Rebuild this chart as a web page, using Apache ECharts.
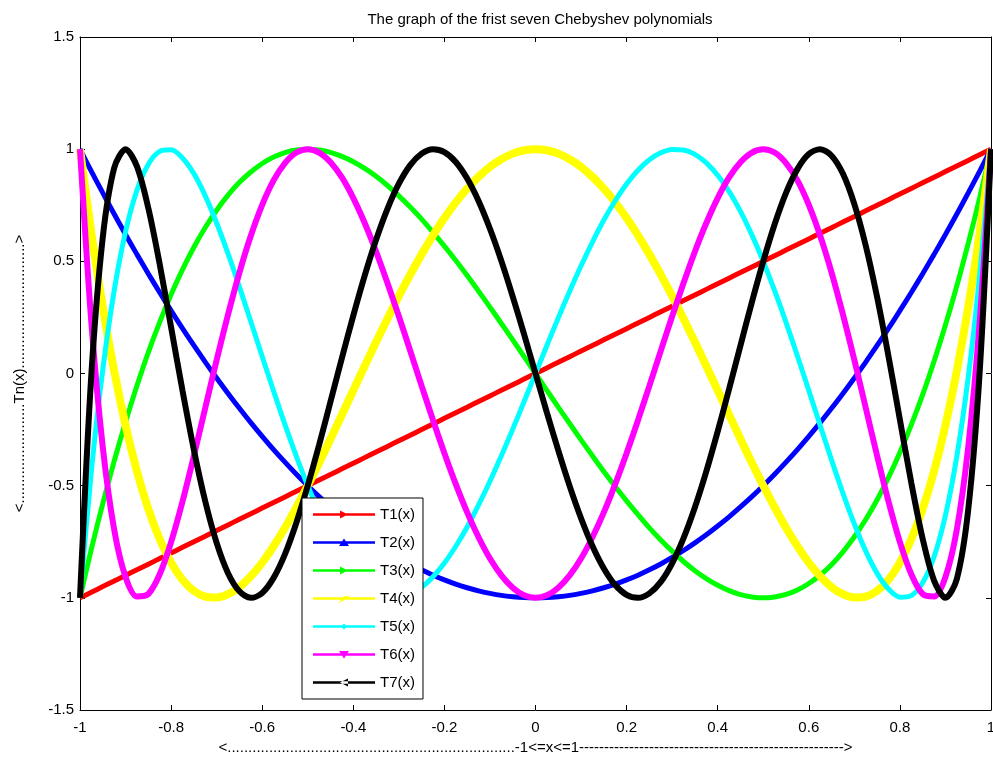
<!DOCTYPE html>
<html>
<head>
<meta charset="utf-8">
<title>Chebyshev polynomials</title>
<script src="https://cdn.jsdelivr.net/npm/echarts@6/dist/echarts.min.js"></script>
<style>
  html, body { margin: 0; padding: 0; background: #fff; }
  #chart { width: 993px; height: 760px; }
</style>
</head>
<body>
<div id="chart"></div>
<script>
// x samples, step 0.025
let xs = [-1, -0.975, -0.95, -0.925, -0.9, -0.875, -0.85, -0.825, -0.8, -0.775, -0.75, -0.725, -0.7, -0.675, -0.65, -0.625, -0.6, -0.575, -0.55, -0.525,
  -0.5, -0.475, -0.45, -0.425, -0.4, -0.375, -0.35, -0.325, -0.3, -0.275, -0.25, -0.225, -0.2, -0.175, -0.15, -0.125, -0.1, -0.075, -0.05, -0.025,
  0, 0.025, 0.05, 0.075, 0.1, 0.125, 0.15, 0.175, 0.2, 0.225, 0.25, 0.275, 0.3, 0.325, 0.35, 0.375, 0.4, 0.425, 0.45, 0.475,
  0.5, 0.525, 0.55, 0.575, 0.6, 0.625, 0.65, 0.675, 0.7, 0.725, 0.75, 0.775, 0.8, 0.825, 0.85, 0.875, 0.9, 0.925, 0.95, 0.975, 1];

let t1 = [-1, -0.975, -0.95, -0.925, -0.9, -0.875, -0.85, -0.825, -0.8, -0.775, -0.75, -0.725, -0.7, -0.675, -0.65, -0.625, -0.6, -0.575, -0.55, -0.525,
  -0.5, -0.475, -0.45, -0.425, -0.4, -0.375, -0.35, -0.325, -0.3, -0.275, -0.25, -0.225, -0.2, -0.175, -0.15, -0.125, -0.1, -0.075, -0.05, -0.025,
  0, 0.025, 0.05, 0.075, 0.1, 0.125, 0.15, 0.175, 0.2, 0.225, 0.25, 0.275, 0.3, 0.325, 0.35, 0.375, 0.4, 0.425, 0.45, 0.475,
  0.5, 0.525, 0.55, 0.575, 0.6, 0.625, 0.65, 0.675, 0.7, 0.725, 0.75, 0.775, 0.8, 0.825, 0.85, 0.875, 0.9, 0.925, 0.95, 0.975, 1];
let t2 = [1, 0.901, 0.805, 0.711, 0.62, 0.531, 0.445, 0.361, 0.28, 0.201, 0.125, 0.051, -0.02, -0.089, -0.155, -0.219, -0.28, -0.339, -0.395, -0.449,
  -0.5, -0.549, -0.595, -0.639, -0.68, -0.719, -0.755, -0.789, -0.82, -0.849, -0.875, -0.899, -0.92, -0.939, -0.955, -0.969, -0.98, -0.989, -0.995, -0.999,
  -1, -0.999, -0.995, -0.989, -0.98, -0.969, -0.955, -0.939, -0.92, -0.899, -0.875, -0.849, -0.82, -0.789, -0.755, -0.719, -0.68, -0.639, -0.595, -0.549,
  -0.5, -0.449, -0.395, -0.339, -0.28, -0.219, -0.155, -0.089, -0.02, 0.051, 0.125, 0.201, 0.28, 0.361, 0.445, 0.531, 0.62, 0.711, 0.805, 0.901, 1];
let t3 = [-1, -0.782, -0.58, -0.391, -0.216, -0.055, 0.094, 0.229, 0.352, 0.463, 0.563, 0.651, 0.728, 0.795, 0.852, 0.898, 0.936, 0.965, 0.985, 0.996,
  1, 0.996, 0.986, 0.968, 0.944, 0.914, 0.879, 0.838, 0.792, 0.742, 0.688, 0.629, 0.568, 0.504, 0.437, 0.367, 0.296, 0.223, 0.15, 0.075,
  0, -0.075, -0.15, -0.223, -0.296, -0.367, -0.437, -0.504, -0.568, -0.629, -0.688, -0.742, -0.792, -0.838, -0.879, -0.914, -0.944, -0.968, -0.986, -0.996,
  -1, -0.996, -0.985, -0.965, -0.936, -0.898, -0.852, -0.795, -0.728, -0.651, -0.563, -0.463, -0.352, -0.229, -0.094, 0.055, 0.216, 0.391, 0.58, 0.782, 1];
let t4 = [1, 0.625, 0.296, 0.012, -0.231, -0.436, -0.604, -0.739, -0.843, -0.919, -0.969, -0.995, -0.999, -0.984, -0.952, -0.904, -0.843, -0.77, -0.688, -0.597,
  -0.5, -0.398, -0.292, -0.184, -0.075, 0.033, 0.14, 0.244, 0.345, 0.441, 0.531, 0.616, 0.693, 0.763, 0.824, 0.877, 0.921, 0.955, 0.98, 0.995,
  1, 0.995, 0.98, 0.955, 0.921, 0.877, 0.824, 0.763, 0.693, 0.616, 0.531, 0.441, 0.345, 0.244, 0.14, 0.033, -0.075, -0.184, -0.292, -0.398,
  -0.5, -0.597, -0.688, -0.77, -0.843, -0.904, -0.952, -0.984, -0.999, -0.995, -0.969, -0.919, -0.843, -0.739, -0.604, -0.436, -0.231, 0.012, 0.296, 0.625, 1];
let t5 = [-1, -0.435, 0.017, 0.369, 0.632, 0.817, 0.933, 0.99, 0.997, 0.961, 0.891, 0.792, 0.671, 0.534, 0.386, 0.232, 0.076, -0.078, -0.228, -0.369,
  -0.5, -0.618, -0.723, -0.812, -0.884, -0.939, -0.977, -0.996, -0.999, -0.984, -0.953, -0.906, -0.845, -0.77, -0.684, -0.586, -0.48, -0.367, -0.248, -0.125,
  0, 0.125, 0.248, 0.367, 0.48, 0.586, 0.684, 0.77, 0.845, 0.906, 0.953, 0.984, 0.999, 0.996, 0.977, 0.939, 0.884, 0.812, 0.723, 0.618,
  0.5, 0.369, 0.228, 0.078, -0.076, -0.232, -0.386, -0.534, -0.671, -0.792, -0.891, -0.961, -0.997, -0.99, -0.933, -0.817, -0.632, -0.369, -0.017, 0.435, 1];
let t6 = [1, 0.225, -0.328, -0.695, -0.907, -0.994, -0.983, -0.895, -0.752, -0.571, -0.367, -0.153, 0.06, 0.263, 0.45, 0.614, 0.752, 0.861, 0.938, 0.985,
  1, 0.985, 0.942, 0.874, 0.782, 0.671, 0.544, 0.403, 0.255, 0.101, -0.055, -0.208, -0.355, -0.493, -0.619, -0.73, -0.825, -0.9, -0.955, -0.989,
  -1, -0.989, -0.955, -0.9, -0.825, -0.73, -0.619, -0.493, -0.355, -0.208, -0.055, 0.101, 0.255, 0.403, 0.544, 0.671, 0.782, 0.874, 0.942, 0.985,
  1, 0.985, 0.938, 0.861, 0.752, 0.614, 0.45, 0.263, 0.06, -0.153, -0.367, -0.571, -0.752, -0.895, -0.983, -0.994, -0.907, -0.695, -0.328, 0.225, 1];
let t7 = [-1, -0.002, 0.607, 0.916, 1, 0.923, 0.737, 0.487, 0.206, -0.076, -0.34, -0.57, -0.755, -0.89, -0.971, -1, -0.978, -0.911, -0.805, -0.665,
  -0.5, -0.318, -0.125, 0.069, 0.258, 0.436, 0.596, 0.734, 0.846, 0.929, 0.98, 1, 0.987, 0.943, 0.869, 0.769, 0.645, 0.502, 0.343, 0.174,
  0, -0.174, -0.343, -0.502, -0.645, -0.769, -0.869, -0.943, -0.987, -1, -0.98, -0.929, -0.846, -0.734, -0.596, -0.436, -0.258, -0.069, 0.125, 0.318,
  0.5, 0.665, 0.805, 0.911, 0.978, 1, 0.971, 0.89, 0.755, 0.57, 0.34, 0.076, -0.206, -0.487, -0.737, -0.923, -1, -0.916, -0.607, 0.002, 1];

let names = ['T1(x)', 'T2(x)', 'T3(x)', 'T4(x)', 'T5(x)', 'T6(x)', 'T7(x)'];
let colors = ['#ff0000', '#0000ff', '#00ff00', '#ffff00', '#00ffff', '#ff00ff', '#000000'];
let values = [t1, t2, t3, t4, t5, t6, t7];
let widths = [5, 5, 5, 8, 5, 6, 6];

// legend icons: a line with the marker in the middle
let base = 'M0,0L0,0M62,14L62,14M0,5.8h62v2.4H0z';
let icons = [
  base + 'M27,3L35,7L27,11z',
  base + 'M26,10.5L31,3L36,10.5z',
  base + 'M27,3L35,7L27,11z',
  base + 'M25,12L31,5L37,4L32,8z',
  base + 'M31,4L34,7L31,10L28,7z',
  base + 'M26,3.5L36,3.5L31,11z',
  base + 'M35,3L27,7L35,11z'
];

let font = 'Liberation Sans, Arial, sans-serif';
let xName = '<' + '.'.repeat(69) + '-1<=x<=1' + '-'.repeat(53) + '>';
let yName = '<' + '.'.repeat(24) + 'Tn(x)' + '.'.repeat(30) + '>';

let chart = echarts.init(document.getElementById('chart'));

let series = values.map(function(v, i) {
  return {
    name: names[i],
    type: 'line',
    smooth: 0.3,
    showSymbol: false,
    symbol: 'none',
    data: xs.map(function(x, j) { return [x, v[j]]; }),
    lineStyle: { color: colors[i], width: widths[i] },
    itemStyle: { color: colors[i] }
  };
});

let tick = { show: true, inside: true, length: 5, lineStyle: { color: '#000' } };
let line = { show: true, onZero: false, lineStyle: { color: '#000', width: 1 } };

chart.setOption({
  animation: false,
  backgroundColor: '#fff',
  title: {
    text: 'The graph of the frist seven Chebyshev polynomials',
    left: 535,
    top: 7,
    textAlign: 'center',
    textStyle: { fontFamily: font, fontSize: 15, fontWeight: 'normal', color: '#000' }
  },
  legend: {
    orient: 'vertical',
    left: 302,
    top: 498,
    padding: [9, 8, 9, 11],
    itemWidth: 62,
    itemHeight: 14,
    itemGap: 13,
    backgroundColor: '#fff',
    borderColor: '#000',
    borderWidth: 1,
    borderRadius: 0,
    itemStyle: { borderWidth: 0 },
    textStyle: { fontFamily: font, fontSize: 15, color: '#000' },
    data: names.map(function(n, i) { return { name: n, icon: 'path://' + icons[i] }; })
  },
  grid: { left: 80, right: 2, top: 37, bottom: 50, outerBoundsMode: 'none' },
  xAxis: [{
    type: 'value',
    min: -1,
    max: 1,
    interval: 0.2,
    axisLine: line,
    axisTick: tick,
    splitLine: { show: false },
    axisLabel: { margin: 10, color: '#000', fontFamily: font, fontSize: 15 },
    name: xName,
    nameLocation: 'middle',
    nameGap: 30,
    nameTextStyle: { fontFamily: font, fontSize: 15, color: '#000' }
  }, {
    type: 'value',
    position: 'top',
    min: -1,
    max: 1,
    interval: 0.2,
    axisLine: line,
    axisTick: tick,
    splitLine: { show: false },
    axisLabel: { show: false }
  }],
  yAxis: [{
    type: 'value',
    min: -1.5,
    max: 1.5,
    interval: 0.5,
    axisLine: line,
    axisTick: tick,
    splitLine: { show: false },
    axisLabel: { margin: 6, color: '#000', fontFamily: font, fontSize: 15 },
    name: yName,
    nameLocation: 'middle',
    nameGap: 53,
    nameTextStyle: { fontFamily: font, fontSize: 15, color: '#000' }
  }, {
    type: 'value',
    position: 'right',
    min: -1.5,
    max: 1.5,
    interval: 0.5,
    axisLine: line,
    axisTick: tick,
    splitLine: { show: false },
    axisLabel: { show: false }
  }],
  series: series
});
</script>
</body>
</html>
